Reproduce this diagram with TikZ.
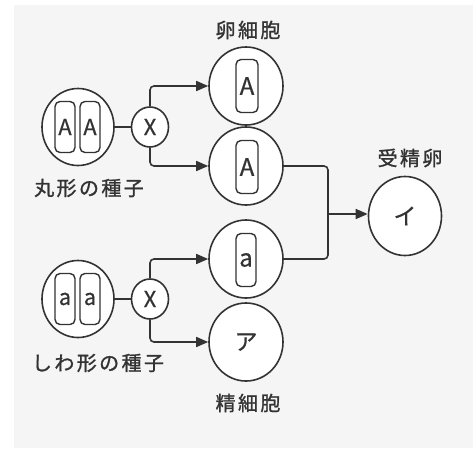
\documentclass[tikz,border=0pt]{standalone}
\usepackage{fontspec}
\setmainfont{Noto Sans CJK JP}
\newfontfamily\jp[LetterSpace=12,FakeBold=1.2]{Noto Sans CJK JP}
\newfontfamily\lat[FakeBold=0.6]{Noto Sans CJK JP}
\usetikzlibrary{arrows.meta,shapes.geometric}
\definecolor{ink}{HTML}{333333}
\definecolor{bgc}{HTML}{F5F5F5}
\begin{document}
\begin{tikzpicture}[x=1pt,y=-1pt,
  cell/.style={ellipse,draw=ink,line width=1.6pt,fill=white,inner sep=0pt,text=ink},
  big/.style={cell,minimum width=74pt,minimum height=78pt,font=\lat\fontsize{23}{23}\selectfont},
  cross/.style={cell,minimum width=37pt,minimum height=40pt,font=\lat\fontsize{22}{22}\selectfont},
  chrom/.style={draw=ink,line width=1.4pt,rounded corners=5pt,fill=white,minimum width=21pt,minimum height=53pt,inner sep=0pt,text=ink,font=\lat\fontsize{24}{24}\selectfont},
  lab/.style={font=\jp\fontsize{20}{20}\selectfont,text=ink,inner sep=0pt},
  link/.style={draw=ink,line width=1.6pt,rounded corners=4pt},
  arr/.style={link,-{Triangle[length=12pt,width=10pt]}}]
\useasboundingbox (0,0) rectangle (473,450);
\fill[white] (0,0) rectangle (473,450);
\fill[bgc] (14,5) rectangle (473,448);
% seeds
\node[big,minimum width=72pt,minimum height=77pt] (seedA) at (78,127) {};
\node[chrom,minimum width=20pt,minimum height=51pt,font=\lat\fontsize{22}{22}\selectfont] (sA1) at (65,127) {A};
\node[chrom,minimum width=20pt,minimum height=51pt,font=\lat\fontsize{22}{22}\selectfont] (sA2) at (90,127) {A};
\node[cross] (xA) at (150,127) {X};
\node[big,minimum width=72pt,minimum height=77pt] (seedB) at (78,299) {};
\node[chrom,minimum width=20pt,minimum height=51pt,font=\lat\fontsize{22}{22}\selectfont] (sB1) at (65,299) {a};
\node[chrom,minimum width=20pt,minimum height=51pt,font=\lat\fontsize{22}{22}\selectfont] (sB2) at (90,299) {a};
\node[cross] (xB) at (150,299) {X};
% gametes
\node[big] (egg1) at (246,86) {};
\node[chrom,minimum width=22pt] (e1) at (247,86) {A};
\node[big] (egg2) at (246,166) {};
\node[chrom,minimum width=22pt] (e2) at (247,167) {A};
\node[big] (spa) at (246,259) {};
\node[chrom,minimum width=20pt] (s1) at (246,260) {a};
\node[big] (spb) at (246,342) {ア};
\node[big,minimum width=73pt,minimum height=79pt] (zyg) at (405,216) {イ};
\coordinate (m) at (328,214);
% connectors
\draw[link] (seedA.east) -- (xA.west);
\draw[link] (seedB.east) -- (xB.west);
\draw[arr] (xA.north) |- (egg1.west);
\draw[arr] (xA.south) |- (egg2.west);
\draw[arr] (xB.north) |- (spa.west);
\draw[arr] (xB.south) |- (spb.west);
\draw[link] (egg2.east) -| (m);
\draw[link] (spa.east) -| (m);
\draw[arr] (m) -- (zyg.west |- m);
% labels
\node[lab] (l1) at (248,30) {卵細胞};
\node[lab] (l2) at (410,158) {受精卵};
\node[lab] (l3) at (89,188) {丸形の種子};
\node[lab] (l4) at (98,363) {しわ形の種子};
\node[lab] (l5) at (248,403) {精細胞};
\end{tikzpicture}
\end{document}
